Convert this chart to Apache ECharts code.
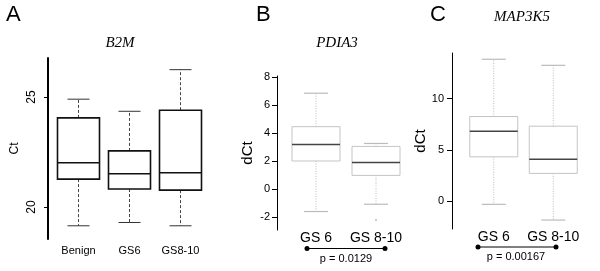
<!DOCTYPE html>
<html>
<head>
<meta charset="utf-8">
<script src="https://cdn.jsdelivr.net/npm/echarts@6/dist/echarts.min.js"></script>
<style>
html,body{margin:0;padding:0;background:#fff;}
#main{width:600px;height:271px;}
</style>
</head>
<body>
<div id="main"></div>
<script>
// B2M (Ct)
let catsA = ["Benign","GS6","GS8-10"]
// [min, q1, median, q3, max]
let boxA = [
    [19.15, 21.27, 22.01, 24.05, 24.9],
    [19.3, 20.82, 21.51, 22.55, 24.35],
    [19.15, 20.77, 21.56, 24.4, 26.24]
]
let ticksA = [20, 25]

// PDIA3 (dCt)
let catsB = ["GS 6","GS 8-10"]
let boxB = [
    [-1.58, 2.03, 3.21, 4.48, 6.87],
    [-1.06, 1.0, 1.93, 3.07, 3.28]
]
let outB = [[1, -2.18]]
let ticksB = [-2, 0, 2, 4, 6, 8]

// MAP3K5 (dCt)
let catsC = ["GS 6","GS 8-10"]
let boxC = [
    [-0.29, 4.33, 6.83, 8.25, 13.82],
    [-1.82, 2.72, 4.1, 7.31, 13.23]
]
let ticksC = [0, 5, 10]

let pB = "p = 0.0129"
let pC = "p = 0.00167"

function withIndex(arr){
    return arr.map(function(d,i){ return [i].concat(d) })
}

// box drawn by hand so whiskers and box can have different strokes
function boxRender(st){
    return function(params, api){
        let x = api.value(0)
        let pMin = api.coord([x, api.value(1)])
        let pQ1 = api.coord([x, api.value(2)])
        let pMed = api.coord([x, api.value(3)])
        let pQ3 = api.coord([x, api.value(4)])
        let pMax = api.coord([x, api.value(5)])
        let cx = pMed[0]
        let hw = st.half, cw = st.cap
        let wh = {stroke: st.whisker, lineWidth: 1, lineDash: st.dash}
        let cap = {stroke: st.capColor, lineWidth: st.capWidth}
        return {
            type: 'group',
            children: [
                {type:'line', shape:{x1:cx,y1:pQ3[1],x2:cx,y2:pMax[1]}, style:wh},
                {type:'line', shape:{x1:cx,y1:pQ1[1],x2:cx,y2:pMin[1]}, style:wh},
                {type:'line', shape:{x1:cx-cw,y1:pMax[1],x2:cx+cw,y2:pMax[1]}, style:cap},
                {type:'line', shape:{x1:cx-cw,y1:pMin[1],x2:cx+cw,y2:pMin[1]}, style:cap},
                {type:'rect', shape:{x:cx-hw,y:pQ3[1],width:hw*2,height:pQ1[1]-pQ3[1]},
                    style:{fill:'#fff', stroke: st.box, lineWidth: st.boxWidth}},
                {type:'line', shape:{x1:cx-hw,y1:pMed[1],x2:cx+hw,y2:pMed[1]},
                    style:{stroke: st.med, lineWidth: st.medWidth}}
            ]
        }
    }
}

let styleA = {half:21, cap:11, whisker:'#444', dash:[3,2], capColor:'#333', capWidth:1,
    box:'#111', boxWidth:1.6, med:'#111', medWidth:1.6}
let styleBC = {half:24, cap:12, whisker:'#bbb', dash:[1,1.5], capColor:'#bbb', capWidth:1.2,
    box:'#c4c4c4', boxWidth:1, med:'#444', medWidth:1.5}

let sans = 'Liberation Sans, Arial, sans-serif'
let serif = 'Liberation Serif, Times New Roman, serif'

var myChart = echarts.init(document.getElementById('main'))

var option = {
    animation:false,
    backgroundColor:'#fff',
    grid:[
        {left:53, top:58, width:153, height:181},
        {left:286, top:76, width:120, height:154},
        {left:464, top:53, width:119, height:176}
    ],
    xAxis:[
        {gridIndex:0, type:'category', data:catsA, axisLine:{show:false}, axisTick:{show:false},
         axisLabel:{interval:0, fontFamily:sans, fontSize:11, color:'#000', margin:6}},
        {gridIndex:1, type:'category', data:catsB, axisLine:{show:false}, axisTick:{show:false},
         axisLabel:{interval:0, hideOverlap:false, fontFamily:sans, fontSize:14, color:'#000', margin:1}},
        {gridIndex:2, type:'category', data:catsC, axisLine:{show:false}, axisTick:{show:false},
         axisLabel:{interval:0, hideOverlap:false, fontFamily:sans, fontSize:14, color:'#000', margin:1}}
    ],
    yAxis:[
        {gridIndex:0, type:'value', min:18.55, max:26.77, offset:5,
         name:'Ct', nameLocation:'middle', nameGap:27, nameRotate:90,
         nameTextStyle:{fontFamily:sans, fontSize:12, color:'#000'},
         axisLine:{show:true, lineStyle:{color:'#000', width:2}},
         axisTick:{show:true, length:4, customValues:ticksA, lineStyle:{color:'#000'}},
         axisLabel:{customValues:ticksA, rotate:90, margin:10, fontFamily:sans, fontSize:12, color:'#000'},
         splitLine:{show:false}},
        {gridIndex:1, type:'value', min:-2.9, max:8.1, offset:9,
         name:'dCt', nameLocation:'middle', nameGap:22, nameRotate:90,
         nameTextStyle:{fontFamily:sans, fontSize:15, color:'#000'},
         axisLine:{show:true, lineStyle:{color:'#000', width:1}},
         axisTick:{show:true, length:5, customValues:ticksB, lineStyle:{color:'#000'}},
         axisLabel:{customValues:ticksB, margin:7, fontFamily:sans, fontSize:11, color:'#000'},
         splitLine:{show:false}},
        {gridIndex:2, type:'value', min:-2.69, max:14.43, offset:12,
         name:'dCt', nameLocation:'middle', nameGap:24, nameRotate:90,
         nameTextStyle:{fontFamily:sans, fontSize:15, color:'#000'},
         axisLine:{show:true, lineStyle:{color:'#000', width:1}},
         axisTick:{show:true, length:5, customValues:ticksC, lineStyle:{color:'#000'}},
         axisLabel:{customValues:ticksC, margin:8, fontFamily:sans, fontSize:11, color:'#000'},
         splitLine:{show:false}}
    ],
    series:[
        {type:'custom', xAxisIndex:0, yAxisIndex:0, data:withIndex(boxA), renderItem:boxRender(styleA)},
        {type:'custom', xAxisIndex:1, yAxisIndex:1, data:withIndex(boxB), renderItem:boxRender(styleBC)},
        {type:'scatter', xAxisIndex:1, yAxisIndex:1, data:outB, symbolSize:2, itemStyle:{color:'#aaa'}},
        {type:'custom', xAxisIndex:2, yAxisIndex:2, data:withIndex(boxC), renderItem:boxRender(styleBC)}
    ],
    graphic:[
        {type:'text', left:6, top:4, style:{text:'A', font:'22px '+sans, fill:'#000'}},
        {type:'text', left:256, top:4, style:{text:'B', font:'22px '+sans, fill:'#000'}},
        {type:'text', left:430, top:4, style:{text:'C', font:'22px '+sans, fill:'#000'}},
        {type:'text', x:120, y:43, style:{text:'B2M', font:'italic 15px '+serif, fill:'#000', align:'center', verticalAlign:'middle'}},
        {type:'text', x:337, y:43, style:{text:'PDIA3', font:'italic 15px '+serif, fill:'#000', align:'center', verticalAlign:'middle'}},
        {type:'text', x:522, y:17, style:{text:'MAP3K5', font:'italic 15px '+serif, fill:'#000', align:'center', verticalAlign:'middle'}},
        // significance bars
        {type:'line', shape:{x1:307,y1:248.5,x2:385,y2:248.5}, style:{stroke:'#000', lineWidth:1}},
        {type:'circle', shape:{cx:307,cy:248.5,r:2.5}, style:{fill:'#000'}},
        {type:'circle', shape:{cx:385,cy:248.5,r:2.5}, style:{fill:'#000'}},
        {type:'text', x:346, y:259, style:{text:pB, font:'11px '+sans, fill:'#000', align:'center', verticalAlign:'middle'}},
        {type:'line', shape:{x1:478,y1:247,x2:556,y2:247}, style:{stroke:'#000', lineWidth:1}},
        {type:'circle', shape:{cx:478,cy:247,r:2.5}, style:{fill:'#000'}},
        {type:'circle', shape:{cx:556,cy:247,r:2.5}, style:{fill:'#000'}},
        {type:'text', x:516, y:257, style:{text:pC, font:'11px '+sans, fill:'#000', align:'center', verticalAlign:'middle'}}
    ]
}

myChart.setOption(option)
</script>
</body>
</html>
